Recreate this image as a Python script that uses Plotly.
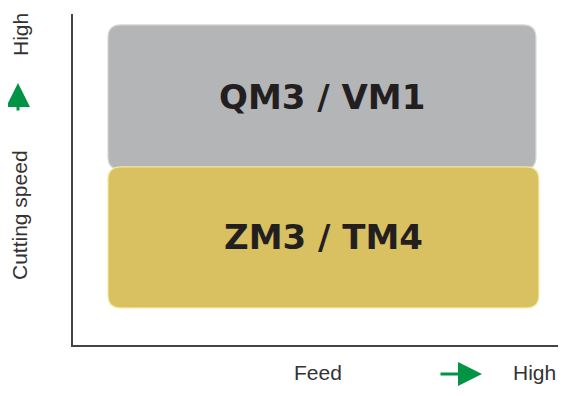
import plotly.graph_objects as go

# grade families and the feed / cutting-speed window each covers (0-100 scale)
grades = ["QM3 / VM1", "ZM3 / TM4"]
feed_lo = [7.1, 7.1]
feed_hi = [93.9, 94.5]
speed_lo = [53.0, 11.2]
speed_hi = [96.7, 53.8]
fills = ["#b4b5b7", "#d9c061"]
edges = ["#d6d6d6", "#f5e89a"]

x_title = "Feed"
y_title = "Cutting speed"
high_lbl = "High"


def rounded_rect(x0, x1, y0, y1, rx=2.6, ry=3.9):
    return (f"M {x0+rx},{y0} L {x1-rx},{y0} Q {x1},{y0} {x1},{y0+ry} "
            f"L {x1},{y1-ry} Q {x1},{y1} {x1-rx},{y1} "
            f"L {x0+rx},{y1} Q {x0},{y1} {x0},{y1-ry} "
            f"L {x0},{y0+ry} Q {x0},{y0} {x0+rx},{y0} Z")


# helpers: page pixel -> paper coordinates (plot area 73..566 x 14..345)
def px(x):
    return (x - 73) / 493


def py(y):
    return (345 - y) / 331


fig = go.Figure()

for i, g in enumerate(grades):
    fig.add_shape(type="path",
                  path=rounded_rect(feed_lo[i], feed_hi[i], speed_lo[i], speed_hi[i]),
                  xref="x", yref="y", fillcolor=fills[i],
                  line=dict(color=edges[i], width=1.2), layer="below")
    fig.add_annotation(x=(feed_lo[i] + feed_hi[i]) / 2,
                       y=(speed_lo[i] + speed_hi[i]) / 2,
                       text=f"<b>{g}</b>", showarrow=False,
                       font=dict(family="DejaVu Sans", size=34, color="#231f20"))

# axis labels
lbl_font = dict(family="Liberation Sans, Arial", size=21, color="#333333")
common = dict(xref="paper", yref="paper", showarrow=False, font=lbl_font,
              xanchor="center", yanchor="middle")
fig.add_annotation(x=px(318), y=py(372), text=x_title, **common)
fig.add_annotation(x=px(534), y=py(372), text=high_lbl, **common)
fig.add_annotation(x=px(20), y=py(215), text=y_title, textangle=-90, **common)
fig.add_annotation(x=px(20), y=py(35), text=high_lbl, textangle=-90, **common)

# green arrows
fig.add_annotation(x=px(482), y=py(374), xref="paper", yref="paper",
                   ax=-43, ay=0, text="", showarrow=True, arrowhead=2,
                   arrowsize=1.6, arrowwidth=3, arrowcolor="#009444")
fig.add_annotation(x=px(18), y=py(83), xref="paper", yref="paper",
                   ax=0, ay=29, text="", showarrow=True, arrowhead=2,
                   arrowsize=1.6, arrowwidth=3, arrowcolor="#009444")

fig.update_xaxes(range=[0, 100], showline=True, linecolor="#444444", linewidth=1.5,
                 showticklabels=False, showgrid=False, zeroline=False, ticks="")
fig.update_yaxes(range=[0, 100], showline=True, linecolor="#444444", linewidth=1.5,
                 showticklabels=False, showgrid=False, zeroline=False, ticks="")

# the page body adds an 8px offset; size kept so the page does not scroll
fig.update_layout(width=558, height=380,
                  margin=dict(l=65, r=0, t=6, b=43),
                  plot_bgcolor="white", paper_bgcolor="white",
                  showlegend=False)

fig.write_html("out.html")
